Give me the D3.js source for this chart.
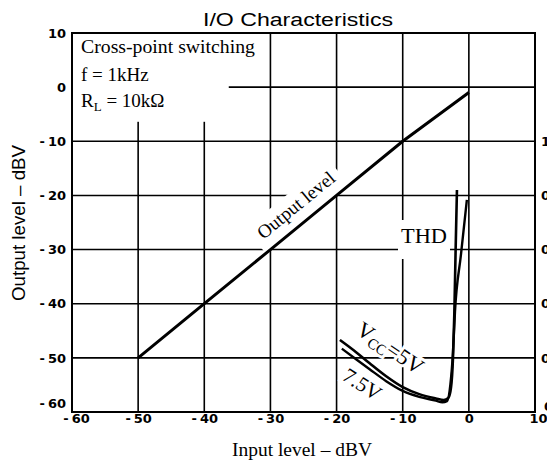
<!DOCTYPE html>
<html><head><meta charset="utf-8">
<script src="https://cdn.jsdelivr.net/npm/d3@7"></script>
<style>
body{margin:0;background:#fff;}
svg{display:block;}
</style></head><body>
<svg id="c" width="547" height="464"></svg>
<script>
// ---- data ----
const xTicks = [-60, -50, -40, -30, -20, -10, 0, 10];
const yTicks = [-60, -50, -40, -30, -20, -10, 0, 10];
const rightTicks = [-10, -20, -30, -40, -50, -60];
const rightTickLabels = ["1", "0.5", "0.2", "0.1", "0.05", "0.02"];

const outputInput = [-50, -40, -30, -20, -10, 0];
const outputLevel = [-50, -40, -30, -20, -10, -1];

const thd5Input = [-19.5, -17, -15, -12.5, -10, -7.5, -5, -3.8, -3.1, -2.7, -2.4, -2.2, -2.0, -1.8];
const thd5      = [-46.7, -49.0, -51.0, -53.4, -55.4, -56.7, -57.5, -57.8, -57.4, -55.5, -50, -42, -30, -19];

const thd75Input = [-19.2, -17, -15, -12.5, -10, -7.5, -5, -4, -3.3, -2.8, -2.4, -2.1, -1.2, -0.3];
const thd75      = [-48.3, -50.3, -52.1, -54.3, -56.1, -57.2, -57.9, -58.2, -58.0, -55, -49, -41.5, -31, -20.8];

// ---- setup ----
const svg = d3.select("#c");
const x = d3.scaleLinear().domain([-60, 10]).range([72, 535]);
const y = d3.scaleLinear().domain([-60, 10]).range([412, 33]);
const serif = "'Liberation Serif','Times New Roman',serif";
const sans = "'Liberation Sans',Arial,sans-serif";
const tickFont = "'DejaVu Sans',sans-serif";

svg.append("rect").attr("width", 547).attr("height", 464).attr("fill", "#fff");

// grid
const grid = svg.append("g").attr("stroke", "#000").attr("stroke-width", 1.6);
grid.selectAll("line.v").data(xTicks.slice(1, -1)).join("line").attr("class", "v")
  .attr("x1", d => x(d)).attr("x2", d => x(d)).attr("y1", y(10)).attr("y2", y(-60));
grid.selectAll("line.h").data(yTicks.slice(1, -1)).join("line").attr("class", "h")
  .attr("x1", x(-60)).attr("x2", x(10)).attr("y1", d => y(d)).attr("y2", d => y(d));

// annotation box (white area over grid)
svg.append("rect").attr("x", x(-60)).attr("y", y(10))
  .attr("width", x(-36.3) - x(-60)).attr("height", y(-6.4) - y(10)).attr("fill", "#fff");

// frame
svg.append("rect").attr("x", x(-60)).attr("y", y(10))
  .attr("width", x(10) - x(-60)).attr("height", y(-60) - y(10))
  .attr("fill", "none").attr("stroke", "#000").attr("stroke-width", 2);

// axes
function fixMinus(sel) {
  sel.each(function(d) {
    if (d < 0) {
      const t = d3.select(this);
      t.text("");
      t.append("tspan").text("-");
      t.append("tspan").attr("dx", 3).text(Math.abs(d));
    }
  });
}
const gx = svg.append("g").attr("transform", `translate(0,${y(-60)})`)
  .call(d3.axisBottom(x).tickValues(xTicks).tickSize(0).tickPadding(2).tickFormat(d => String(Math.abs(d))));
gx.select(".domain").remove();
gx.selectAll("text").attr("font-family", tickFont).attr("font-weight", "bold")
  .attr("font-size", 13).attr("fill", "#000").call(fixMinus);
gx.selectAll(".tick").filter(d => d === 10).select("text").attr("dx", 3);
gx.selectAll(".tick").filter(d => d === -60).select("text").attr("dx", 4);

const gy = svg.append("g").attr("transform", `translate(${x(-60)},0)`)
  .call(d3.axisLeft(y).tickValues(yTicks).tickSize(0).tickPadding(6).tickFormat(d => String(Math.abs(d))));
gy.select(".domain").remove();
gy.selectAll("text").attr("font-family", tickFont).attr("font-weight", "bold")
  .attr("font-size", 13).attr("fill", "#000").call(fixMinus);
gy.selectAll(".tick").filter(d => d === -60).select("text").attr("y", -9);

const gr = svg.append("g").attr("transform", `translate(${x(10)},0)`)
  .call(d3.axisRight(y).tickValues(rightTicks).tickSize(0).tickPadding(6)
    .tickFormat((d, i) => rightTickLabels[i]));
gr.select(".domain").remove();
gr.selectAll("text").attr("font-family", tickFont).attr("font-weight", "bold")
  .attr("font-size", 13).attr("fill", "#000");
gr.selectAll(".tick").filter(d => d === -60).select("text").attr("y", -6).attr("x", 9);

// title
svg.append("text").attr("x", 298).attr("y", 26).attr("text-anchor", "middle")
  .attr("font-family", sans).attr("font-size", 18)
  .attr("textLength", 190).attr("lengthAdjust", "spacingAndGlyphs")
  .text("I/O Characteristics");

// axis titles
svg.append("text").attr("x", 302).attr("y", 456).attr("text-anchor", "middle")
  .attr("font-family", serif).attr("font-size", 19)
  .attr("textLength", 140).attr("lengthAdjust", "spacingAndGlyphs")
  .text("Input level – dBV");
svg.append("text").attr("transform", "translate(25,223) rotate(-90)").attr("text-anchor", "middle")
  .attr("font-family", sans).attr("font-size", 18)
  .attr("textLength", 156).attr("lengthAdjust", "spacingAndGlyphs")
  .text("Output level – dBV");

// annotation text
svg.append("text").attr("x", 81).attr("y", 53).attr("font-family", serif).attr("font-size", 18)
  .attr("textLength", 174).attr("lengthAdjust", "spacingAndGlyphs").text("Cross-point switching");
svg.append("text").attr("x", 81).attr("y", 81).attr("font-family", serif).attr("font-size", 19)
  .text("f = 1kHz");
const rl = svg.append("text").attr("x", 81).attr("y", 107).attr("font-family", serif).attr("font-size", 19);
rl.append("tspan").text("R");
rl.append("tspan").attr("font-size", 13).attr("dy", 4).text("L");
rl.append("tspan").attr("dy", -4).text(" = 10kΩ");

// "Output level" label with white backing
const angDeg = Math.atan2(y(-20) - y(-30), x(-20) - x(-30)) * 180 / Math.PI;
const olg = svg.append("g").attr("transform", `translate(300,210) rotate(${angDeg})`);
olg.append("rect").attr("x", -54).attr("y", -20).attr("width", 108).attr("height", 31).attr("fill", "#fff");
olg.append("text").attr("text-anchor", "middle").attr("font-family", serif).attr("font-size", 19)
  .text("Output level");

// THD label
const thd = svg.append("text").attr("x", 401).attr("y", 243).attr("font-family", serif).attr("font-size", 20)
  .attr("textLength", 46).attr("lengthAdjust", "spacingAndGlyphs").text("THD");
const bb = thd.node().getBBox();
svg.insert("rect", function(){ return thd.node(); })
  .attr("x", bb.x - 3).attr("y", bb.y - 5).attr("width", bb.width + 6).attr("height", bb.height + 17)
  .attr("fill", "#fff");

// Vcc labels (halo)
const vcc = svg.append("text").attr("transform", "translate(355,333) rotate(34)")
  .attr("font-family", serif).attr("font-size", 22)
  .attr("stroke", "#fff").attr("stroke-width", 6).attr("paint-order", "stroke").attr("fill", "#000");
vcc.append("tspan").text("V");
vcc.append("tspan").attr("font-size", 15).attr("dy", 4).text("CC");
vcc.append("tspan").attr("dy", -4).text("=5V");

svg.append("text").attr("transform", "translate(341,379) rotate(33)")
  .attr("font-family", serif).attr("font-size", 21)
  .attr("stroke", "#fff").attr("stroke-width", 6).attr("paint-order", "stroke").attr("fill", "#000")
  .text("7.5V");

// curves
const line = d3.line().x(d => x(d[0])).y(d => y(d[1]));
svg.append("path").datum(outputInput.map((v, i) => [v, outputLevel[i]]))
  .attr("d", line).attr("fill", "none").attr("stroke", "#000").attr("stroke-width", 3);

const cline = d3.line().x(d => x(d[0])).y(d => y(d[1])).curve(d3.curveMonotoneX);
svg.append("path").datum(thd5Input.map((v, i) => [v, thd5[i]]))
  .attr("d", cline).attr("fill", "none").attr("stroke", "#000").attr("stroke-width", 2.6);
svg.append("path").datum(thd75Input.map((v, i) => [v, thd75[i]]))
  .attr("d", cline).attr("fill", "none").attr("stroke", "#000").attr("stroke-width", 2.4);
</script>
</body></html>
